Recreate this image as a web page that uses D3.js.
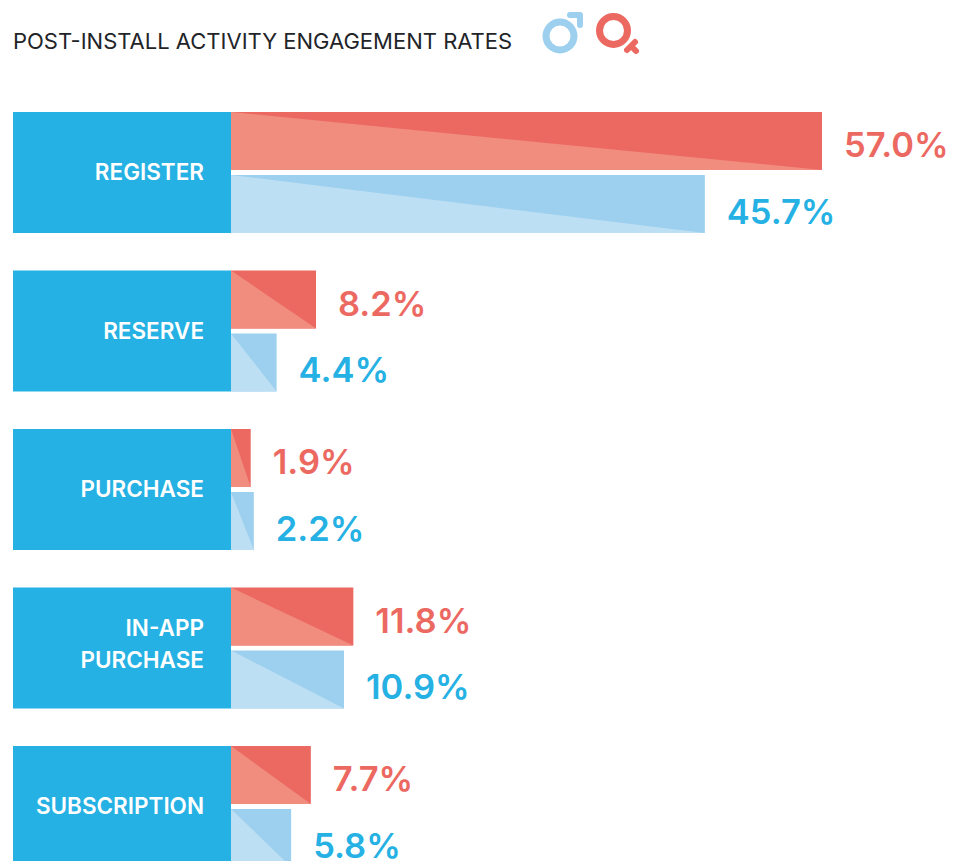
<!DOCTYPE html>
<html><head><meta charset="utf-8">
<script src="https://cdn.jsdelivr.net/npm/d3@7/dist/d3.min.js"></script>
<style>html,body{margin:0;padding:0;background:#fff;overflow:hidden}svg{display:block}text{font-family:Inter,Lato,sans-serif}</style>
</head><body>
<script>
const title = "POST-INSTALL ACTIVITY ENGAGEMENT RATES";
const categories = ["REGISTER","RESERVE","PURCHASE","IN-APP PURCHASE","SUBSCRIPTION"];
const labelLines = [["REGISTER"],["RESERVE"],["PURCHASE"],["IN-APP","PURCHASE"],["SUBSCRIPTION"]];
const femaleValues = [57.0,8.2,1.9,11.8,7.7];
const maleValues = [45.7,4.4,2.2,10.9,5.8];

const W=955,H=861;
const svg=d3.select("body").append("svg").attr("width",W).attr("height",H);
const x=d3.scaleLinear().domain([0,57]).range([231,822]);
const rowH=121;
const y=d3.scaleBand().domain(categories).range([112,867]).paddingInner(37.5/158.5).paddingOuter(0);
const BLOCK="#25b1e3",RD="#ec6962",RL="#f08d7f",BD="#9cd0ee",BL="#bddff4";

svg.append("text").attr("x",13).attr("y",49).attr("font-size",22).attr("fill","#222428").text(title);

// gender icons
const icons=svg.append("g");
icons.append("circle").attr("cx",560).attr("cy",36).attr("r",14).attr("fill","none").attr("stroke",BD).attr("stroke-width",7);
icons.append("path").attr("d","M570 15H580V25").attr("fill","none").attr("stroke",BD).attr("stroke-width",6).attr("stroke-linecap","round").attr("stroke-linejoin","round");
icons.append("circle").attr("cx",613.5).attr("cy",30.5).attr("r",14).attr("fill","none").attr("stroke",RD).attr("stroke-width",7);
icons.append("path").attr("d","M627 50L635 42M631 46L636 51").attr("fill","none").attr("stroke",RD).attr("stroke-width",6).attr("stroke-linecap","round");

const rows=categories.map((c,i)=>({c,lines:labelLines[i],f:femaleValues[i],m:maleValues[i]}));
const g=svg.selectAll("g.row").data(rows).join("g").attr("class","row");
g.append("rect").attr("x",13).attr("y",d=>y(d.c)).attr("width",218).attr("height",rowH).attr("fill",BLOCK);
const barH=58;
function bar(sel,val,yo,dark,light,txt,ty){
  sel.append("rect").attr("x",x(0)).attr("y",d=>y(d.c)+yo).attr("width",d=>x(val(d))-x(0)).attr("height",barH).attr("fill",dark);
  sel.append("path").attr("fill",light).attr("d",d=>{
    const t=y(d.c)+yo,r=x(val(d));
    return d3.line()([[x(0),t],[r,t+barH],[x(0),t+barH]])+"Z";
  });
  sel.append("text").attr("x",d=>x(val(d))+22).attr("y",d=>y(d.c)+ty).attr("font-size",34.5).attr("font-weight",600).attr("fill",txt).text(d=>val(d).toFixed(1)+"%");
}
bar(g,d=>d.f,0,RD,RL,RD,45);
bar(g,d=>d.m,63,BD,BL,BLOCK,111.5);
g.each(function(d){
  const s=d3.select(this),n=d.lines.length;
  d.lines.forEach((l,i)=>{
    s.append("text").attr("x",204).attr("y",y(d.c)+68+(n>1?-4:0)+(i-(n-1)/2)*32).attr("text-anchor","end").attr("font-size",22.5).attr("font-weight",600).attr("fill","#fff").text(l);
  });
});
</script>
</body></html>
